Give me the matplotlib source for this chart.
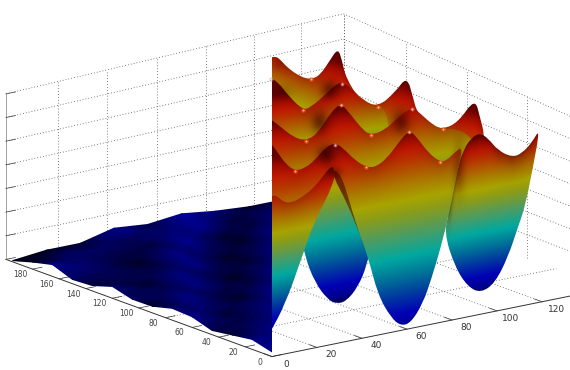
import matplotlib
matplotlib.use('Agg')
import matplotlib.pyplot as plt
from matplotlib.colors import LinearSegmentedColormap
from matplotlib.patches import PathPatch, Rectangle
from matplotlib.path import Path
from mpl_toolkits.mplot3d import proj3d
import numpy as np

# ── DATA ──────────────────────────────────────────────
x_ticks = [0, 20, 40, 60, 80, 100, 120]
y_ticks = [0, 20, 40, 60, 80, 100, 120, 140, 160, 180]
z_ticks = [0, 1, 2, 3, 4, 5, 6, 7]
wall_x = [23, 45, 67, 89, 110, 131, 150]
wall_y = [62, 107, 153, 200]
floor_y = [40, 80, 120, 160]

# low surface, left of the seam
low_x = [0, 15, 30, 45, 60, 75, 90, 105, 120]
low_y = [0, 15, 30, 45, 60, 75, 90, 105, 120, 135, 150, 165, 180, 195]
low_z = [
    [.20, .10, .25, .35, .20, .10, .25, .40, .30],
    [.42, .25, .15, .30, .45, .25, .15, .35, .45],
    [.30, .40, .20, .10, .35, .45, .25, .15, .40],
    [.18, .45, .35, .15, .20, .50, .35, .15, .30],
    [.45, .30, .50, .25, .10, .35, .50, .25, .15],
    [.50, .20, .40, .45, .15, .20, .45, .40, .20],
    [.28, .45, .20, .50, .35, .15, .30, .50, .30],
    [.27, .50, .25, .30, .50, .25, .15, .40, .45],
    [.50, .30, .45, .15, .45, .40, .20, .25, .50],
    [.23, .15, .50, .25, .25, .50, .30, .15, .40],
    [.18, .35, .30, .45, .15, .40, .50, .25, .25],
    [.50, .20, .15, .50, .30, .20, .55, .40, .15],
    [.30, .40, .25, .30, .50, .25, .35, .55, .25],
    [.05, .20, .20, .55, .42, .58, .40, .30, .30],
]

# high surface, right of the seam: outlines of the folds, back to front
a_y = [186.8, 183.8, 180.1, 174.1, 164.3, 156.8, 150, 142.5, 136.5, 133.5, 130.5, 119.9,
       106.4, 93.6, 84.6, 80.1, 77.1, 67.3, 57.5, 46.2, 33.5, 29.7, 25.9, 25.9, 186.8]
a_z = [6.65, 6.80, 6.75, 6.49, 6.32, 6.38, 6.69, 7.48, 8.11, 7.66, 6.97, 6.25,
       6.24, 7.13, 7.99, 7.19, 6.62, 6.27, 6.31, 6.83, 8.11, 7.38, 6.62, 3.11, -.18]

b_x = [58.7, 61.8, 66.2, 72.9, 76.4, 82.7, 87.1, 90.2, 94.2, 99.6, 106.2, 108.4, 111.6, 111.6, 58.7]
b_z = [8.63, 8.36, 7.72, 6.96, 7.02, 7.41, 7.74, 7.81, 7.48, 6.86, 6.44, 6.44, 5.58, 1.78, 2.81]

c_x = [35.0, 39.5, 44.8, 50.6, 55.9, 61.7, 66.1, 70.6, 75.9, 79.5, 85.7, 91.5, 97.7, 101.2,
       107, 111.4, 115.4, 121.7, 127.9, 127.9, 35.0]
c_z = [8.18, 7.71, 7.19, 6.91, 7.14, 7.91, 8.21, 7.62, 6.88, 6.60, 6.69, 7.12, 7.43, 7.11,
       6.49, 6.23, 6.19, 5.90, 5.03, 1.86, 3.66]

r_x = [79.1, 82.2, 84.9, 88.9, 92.4, 96, 100.4, 106.7, 111.1, 115.6, 119.1, 116, 112.4,
       109.3, 104.9, 99.1, 92.9, 87.1, 81.3, 76.4]
r_z = [4.67, 6.17, 7.09, 7.56, 7.66, 7.38, 6.78, 6.37, 6.45, 6.83, 7.35, 5.77, 4.15,
       3.36, 2.19, 1.20, .90, 1.26, 2.22, 3.79]

l_x = [50.8, 45, 36.1, 38.3, 42.8, 48.5, 52.1, 56.5, 61.9, 65.9, 68.1, 58.3]
l_z = [5.66, 5.35, 3.84, 2.66, 1.47, .65, .41, .41, .93, 1.78, 2.80, 5.73]

d_x = [0, 2.7, 5.8, 10.2, 14.7, 19.1, 24, 28, 31.6, 36.9, 41.8, 46.2, 51.6, 56, 60.9, 64.4,
       69.3, 74.7, 77.8, 81.3, 84.9, 82.2, 79.1, 75.1, 70.7, 67.1, 61.8, 57.3, 52.9, 47.1,
       42.7, 38.2, 33.8, 31.6, 29.3, 23.6, 12.4, 0]
d_z = [9.07, 8.56, 8.07, 7.65, 7.69, 7.94, 8.40, 8.49, 8.21, 7.59, 7.21, 7.12, 7.44, 7.94,
       8.40, 8.03, 7.30, 6.78, 6.80, 7.07, 7.26, 6.17, 4.67, 3.19, 1.88, .97, .24, .19, .62,
       1.70, 3.39, 4.62, 6.10, 6.86, 7.24, 6.59, 5.96, 6.20]

s_x = [27.1, 29.3, 31.6, 33.8, 38.2, 42.7, 40, 35.6, 31.6, 28]
s_z = [7.36, 7.24, 6.86, 6.10, 4.62, 3.39, 4.16, 5.30, 6.22, 6.92]

e_x = [0, 1.8, 4.9, 8.4, 12.9, 19.1, 24, 27.1, 28, 27.1, 24, 19.1, 12.9, 5.8, 0]
e_z = [6.75, 6.80, 6.45, 6.33, 6.46, 6.80, 7.34, 7.57, 7.14, 6.81, 6.16, 5.41, 3.84, 2.08, 1.01]

# ── STYLE ─────────────────────────────────────────────
W, H = 570, 370
SEAM = 272
NAVY = LinearSegmentedColormap.from_list('navy', ['#000018', '#00005a', '#000098'])
# muted jet, as the reference renders it
HEAT = LinearSegmentedColormap.from_list('heat', [
    (0.00, '#00003a'), (0.06, '#000090'), (0.12, '#0000b4'), (0.22, '#00409e'),
    (0.31, '#007a98'), (0.39, '#00a8a0'), (0.50, '#509c60'), (0.60, '#8c9c18'),
    (0.66, '#a8a400'), (0.74, '#ac7800'), (0.84, '#b83800'), (0.90, '#c01800'),
    (0.95, '#a00c00'), (1.00, '#680000')])
GRID = dict(color='#555555', lw=0.6, dashes=(1, 2.5))

# dark patches of the lighting: screen x, y, spread x, y, strength
SHADOWS = [(330, 90, 9, 10, .6), (320, 122, 9, 12, .6), (326, 155, 9, 10, .65),
           (401, 122, 9, 12, .6), (459, 168, 6, 25, .35), (335, 172, 7, 6, .4),
           (281, 63, 10, 8, .25), (282, 92, 10, 8, .2)]
PEAK_GLOW = [(271, 79), (342, 84), (341, 105), (335, 145), (412, 109), (409, 132)]
VALLEY_GLOW = [(311, 79), (303, 110), (378, 107), (306, 141), (371, 135), (443, 129),
               (295, 171), (366, 167), (440, 162)]

fig = plt.figure(figsize=(W / 100, H / 100), dpi=100, facecolor='white')

# ═══ BOX AND AXES ═══
ax = fig.add_axes([-9.5 / W, -138.2 / H, 617.8 / W, 617.8 / H], projection='3d')
ax.set_proj_type('ortho')
ax.view_init(elev=15.8, azim=-126.7)
ax.set_xlim(0, 150)
ax.set_ylim(0, 200)
ax.set_zlim(0, 7)
ax.set_box_aspect((421, 445, 172))
ax.patch.set_visible(False)
ax.grid(False)
for axis in (ax.xaxis, ax.yaxis, ax.zaxis):
    axis.pane.set_visible(False)
    axis.line.set_color('#333333')
    axis.line.set_linewidth(0.7)
    axis._axinfo['tick']['inward_factor'] = 0
    axis._axinfo['tick']['outward_factor'] = 0.35
    axis._axinfo['tick']['linewidth'] = {True: 0.5, False: 0.5}
ax.zaxis.line.set_color('#a0a0a0')
ax.set_xticks(x_ticks)
ax.set_yticks(y_ticks)
ax.set_zticks(z_ticks)
ax.set_xticklabels([])
ax.set_yticklabels([])
ax.set_zticklabels([])
ax.tick_params(axis='both', colors='#333333')


# the reference has a little perspective: walls lift toward the back corner
def back(z):
    return z * 1.07


def right_end(z):
    return z * 0.93


# dotted walls and floor
for x in wall_x:
    ax.plot([x, x], [200, 200], [0, 7 + (back(7) - 7) * x / 150], **GRID)
for y in wall_y:
    ax.plot([150, 150], [y, y], [0, right_end(7) + (back(7) - right_end(7)) * y / 200], **GRID)
for z in z_ticks[1:]:
    ax.plot([0, 150], [200, 200], [z, back(z)], **GRID)
    ax.plot([150, 150], [200, 0], [back(z), right_end(z)], **GRID)
for x in x_ticks[1:]:
    ax.plot([x, x], [0, 200], [0, 0], **GRID)
for y in floor_y:
    ax.plot([0, 150], [y, y], [0, 0], **GRID)

ax.apply_aspect()
M = ax.get_proj()


def to_screen(x, y, z):
    shape = np.shape(x)
    px, py, _ = proj3d.proj_transform(np.ravel(x).astype(float), np.ravel(y).astype(float),
                                      np.ravel(z).astype(float), M)
    out = ax.transData.transform(np.column_stack([px, py]))
    return out[:, 0].reshape(shape), H - out[:, 1].reshape(shape)


# ═══ OVERLAY IN SCREEN PIXELS ═══
ov = fig.add_axes([0, 0, 1, 1])
ov.patch.set_visible(False)
ov.axis('off')

# ── low surface ──
lz = np.array(low_z)
lx, ly = np.meshgrid(low_x, low_y)
shade = 0.40 + 1.9 * np.gradient(lz, axis=0) - 0.8 * np.gradient(lz, axis=1) + 0.25 * lz
sx, sy = to_screen(lx, ly, lz)
low = ov.pcolormesh(sx[::-1, ::-1], sy[::-1, ::-1], shade[::-1, ::-1], shading='gouraud',
                    cmap=NAVY, vmin=0, vmax=1)
low.set_clip_path(Rectangle((0, 0), SEAM, H, transform=ov.transData))

# ── high surface: one gradient per fold, clipped to its outline ──
gx, gy = np.meshgrid(np.arange(W) + .5, np.arange(H) + .5)
light = np.ones_like(gx)
for cx, cy, rx, ry, k in SHADOWS:
    light *= 1 - k * np.exp(-((gx - cx) / rx) ** 2 - ((gy - cy) / ry) ** 2)


def smooth_outline(sx, sy):
    # rounded line through the outline; points on the seam are tripled to keep corners sharp
    keep = np.where(sx <= SEAM + 1, 3, 1)
    pts = np.repeat(np.column_stack([np.where(sx <= SEAM + 1, sx - 2, sx), sy]), keep, axis=0)
    mids = (pts + np.roll(pts, -1, axis=0)) / 2
    verts = [mids[-1]]
    codes = [Path.MOVETO]
    for p, m in zip(pts, mids):
        verts += [p, m]
        codes += [Path.CURVE3, Path.CURVE3]
    return Path(verts, codes)


def fold(x, y, z, vmin, vmax, n_top=0, crest_dark=0.0, gain=1.0):
    x, y, z = np.broadcast_arrays(x, y, z)
    sx, sy = to_screen(x, y, z)
    # height of each pixel on the plane the outline lies in
    coef = np.linalg.lstsq(np.column_stack([sx, sy, np.ones_like(sx)]), z, rcond=None)[0]
    field = coef[0] * gx + coef[1] * gy + coef[2]
    rgba = HEAT(np.clip((field - vmin) / (vmax - vmin), 0, 1))
    tone = light * gain
    if n_top:
        order = np.argsort(sx[:n_top])
        crest = np.interp(gx, sx[:n_top][order], sy[:n_top][order])
        tone = tone * (1 - crest_dark * np.exp(-np.clip(gy - crest, 0, None) / 9))
    # shadows stay maroon: red falls off slower than the rest
    rgba[..., 0] *= tone ** 0.6
    rgba[..., 1:3] *= tone[..., None]
    rgba[gx < SEAM, 3] = 0
    im = ov.imshow(rgba, extent=(0, W, H, 0), aspect='auto', interpolation='nearest', zorder=2)
    im.set_clip_path(PathPatch(smooth_outline(sx, sy), transform=ov.transData))


fold(110, a_y, a_z, 0.2, 7.6, n_top=23, crest_dark=.2)
fold(b_x, 100, b_z, 1.2, 7.85, n_top=12, crest_dark=.2)
fold(c_x, 60, c_z, -.2, 8.0, n_top=18, crest_dark=.2)
fold(r_x, 0, r_z, .76, 7.63, n_top=11, crest_dark=.45)
fold(l_x, 40, l_z, .26, 7.95)
fold(d_x, 0, d_z, -.4, 8.5, n_top=21, crest_dark=.2)
fold(s_x, 0, s_z, -.4, 8.5, gain=.45)
fold(e_x, 0, e_z, .73, 7.5, n_top=8, crest_dark=.2)

# highlights
ov.scatter(*zip(*VALLEY_GLOW), s=12, color='#ff5a20', alpha=.5, lw=0, zorder=3)
ov.scatter(*zip(*VALLEY_GLOW), s=2, color='#ffd8b8', alpha=.8, lw=0, zorder=3)
ov.scatter(*zip(*PEAK_GLOW), s=9, color='#f08070', alpha=.45, lw=0, zorder=3)
ov.scatter(*zip(*PEAK_GLOW), s=2, color='#ffe8e8', alpha=.8, lw=0, zorder=3)

ov.set_xlim(0, W)
ov.set_ylim(H, 0)

# tick labels
for t in x_ticks:
    tx, ty = to_screen(t, 0, 0)
    ov.text(tx + 14, ty + 7.5, str(t), fontsize=6.5, color='#333333', ha='center', va='center')
for t in y_ticks:
    tx, ty = to_screen(0, t, 0)
    ov.text(tx - 12.5, ty + 5.5, str(t), fontsize=5.5, color='#444444', ha='center', va='center')

plt.savefig('out.png', dpi=100, facecolor='white')
plt.close()
